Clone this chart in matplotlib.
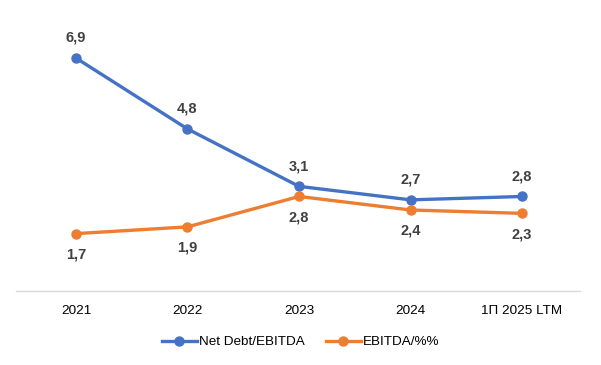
import matplotlib
matplotlib.use("Agg")
import matplotlib.pyplot as plt

categories = ["2021", "2022", "2023", "2024", "1П 2025 LTM"]
net_debt_ebitda = [6.9, 4.8, 3.1, 2.7, 2.8]
ebitda_pct = [1.7, 1.9, 2.8, 2.4, 2.3]
label_nd = ["6,9", "4,8", "3,1", "2,7", "2,8"]
label_eb = ["1,7", "1,9", "2,8", "2,4", "2,3"]

plt.rcParams['font.family'] = ['Liberation Sans', 'DejaVu Sans']

fig = plt.figure(figsize=(6.01, 3.65), dpi=100)
ax = fig.add_axes([16/601, 0.2027, 564/601, 0.74])
x = list(range(len(categories)))
blue = "#4472C4"
orange = "#ED7D31"
ax.plot(x, net_debt_ebitda, color=blue, lw=2.4, marker='o', ms=6.5, label="Net Debt/EBITDA", zorder=3)
ax.plot(x, ebitda_pct, color=orange, lw=2.4, marker='o', ms=6.5, label="EBITDA/%%", zorder=3)

for xi, v, t in zip(x, net_debt_ebitda, label_nd):
    ax.annotate(t, (xi, v), xytext=(0, 14.5), textcoords='offset points', ha='center', va='center',
                fontsize=10.5, fontweight='bold', color='#404040')
for xi, v, t in zip(x, ebitda_pct, label_eb):
    ax.annotate(t, (xi, v), xytext=(0, -15), textcoords='offset points', ha='center', va='center',
                fontsize=10.5, fontweight='bold', color='#404040')

ax.set_xlim(-0.538, 4.52)
ax.set_ylim(0, 8)
ax.set_xticks(x)
ax.set_xticklabels(categories, fontsize=9.7, color='#000000')
ax.set_yticks([])
for s in ['top', 'right', 'left']:
    ax.spines[s].set_visible(False)
ax.spines['bottom'].set_color('#D9D9D9')
ax.spines['bottom'].set_linewidth(1.0)
ax.tick_params(axis='x', length=0, pad=10)

fig.legend(loc='center', bbox_to_anchor=(0.5, 1 - 342/365), ncol=2, frameon=False,
           fontsize=9.7, handlelength=2.6, columnspacing=1.6, handletextpad=0.15)

fig.savefig("out.png", dpi=100)
